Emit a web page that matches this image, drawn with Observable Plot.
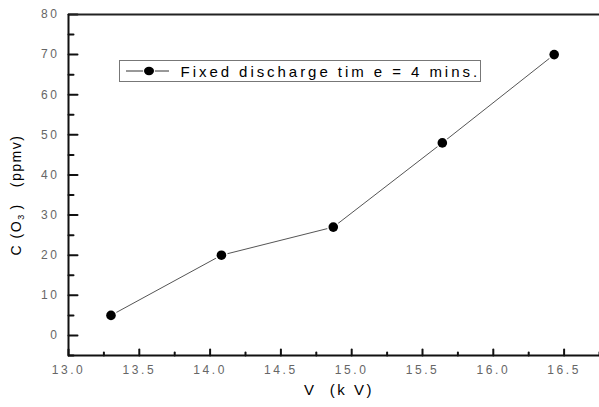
<!DOCTYPE html>
<html>
<head>
<meta charset="utf-8">
<script src="https://cdn.jsdelivr.net/npm/d3@7"></script>
<script src="https://cdn.jsdelivr.net/npm/@observablehq/plot@0.6"></script>
<style>
  html, body { margin: 0; padding: 0; background: #fff; }
  #wrap { position: relative; width: 599px; height: 407px; font-family: Arial, "Liberation Sans", sans-serif; }
  #legend { position: absolute; left: 119px; top: 60px; width: 362px; height: 22px; border: 1px solid #777; box-sizing: border-box; background: #fff; display: flex; align-items: center; }
  #legend svg { margin-left: 5px; }
  #legend span { margin-left: 12px; font-size: 15px; letter-spacing: 2.95px; color: #000; white-space: pre; }
  #ytitle { position: absolute; left: 17px; top: 195px; transform: translate(-50%, -50%) rotate(-90deg); font-size: 14px; letter-spacing: 1.5px; color: #000; white-space: pre; line-height: 1; }
  #ytitle sub { font-size: 9px; vertical-align: -3px; letter-spacing: 0; }
  g[aria-label="x-axis tick label"], g[aria-label="y-axis tick label"] { letter-spacing: 2.6px; }
  .xtitle text { letter-spacing: 2.5px; }
</style>
</head>
<body>
<div id="wrap"></div>
<script>
const voltage = [13.30, 14.08, 14.87, 15.64, 16.43];
const ozone = [5, 20, 27, 48, 70];
const seriesName = "Fixed discharge tim e = 4 mins.";
const xMajor = [13.0, 13.5, 14.0, 14.5, 15.0, 15.5, 16.0, 16.5];
const xMinor = [13.25, 13.75, 14.25, 14.75, 15.25, 15.75, 16.25, 16.75];
const yMajor = [0, 10, 20, 30, 40, 50, 60, 70, 80];
const yMinor = [-5, 5, 15, 25, 35, 45, 55, 65, 75];
const xDomain = [13.0, 16.75];
const yDomain = [-5, 80];
const xTitle = "V  (k V)";
const yTitleParts = ["C (O", "3", " )   (ppmv)"];

const data = voltage.map((v, i) => ({v, c: ozone[i]}));
const tickShape = {draw(ctx, l) { ctx.moveTo(0, 0); ctx.lineTo(0, -l); }};

const chart = Plot.plot({
  width: 599,
  height: 407,
  marginLeft: 68,
  marginRight: 0,
  marginTop: 14,
  marginBottom: 52,
  style: {fontFamily: "Arial, 'Liberation Sans', sans-serif", background: "#fff"},
  x: {domain: xDomain},
  y: {domain: yDomain},
  marks: [
    Plot.axisX({ticks: xMajor, tickSize: 0, tickPadding: 10, tickFormat: d3.format(".1f"), fontSize: 12, fill: "#666", label: null}),
    Plot.axisY({ticks: yMajor, tickSize: 0, tickPadding: 9, tickFormat: d3.format("d"), fontSize: 12, fill: "#666", label: null}),
    Plot.vector(xMajor, {x: d => d, frameAnchor: "bottom", length: 6, anchor: "start", shape: tickShape, stroke: "#111", strokeWidth: 2}),
    Plot.vector(xMinor, {x: d => d, frameAnchor: "bottom", length: 3, anchor: "start", shape: tickShape, stroke: "#111", strokeWidth: 2}),
    Plot.vector(yMajor, {y: d => d, frameAnchor: "left", length: 9, rotate: 90, anchor: "start", shape: tickShape, stroke: "#111", strokeWidth: 2}),
    Plot.vector(yMinor, {y: d => d, frameAnchor: "left", length: 5, rotate: 90, anchor: "start", shape: tickShape, stroke: "#111", strokeWidth: 2}),
    Plot.ruleY([yDomain[1]], {stroke: "#222", strokeWidth: 2}),
    Plot.ruleY([yDomain[0]], {stroke: "#111", strokeWidth: 2}),
    Plot.ruleX([xDomain[0]], {stroke: "#111", strokeWidth: 2}),
    Plot.line(data, {x: "v", y: "c", stroke: "#555", strokeWidth: 1}),
    Plot.dot(data, {x: "v", y: "c", r: 4.8, fill: "#000", stroke: "#fff", strokeWidth: 3, paintOrder: "stroke"}),
    Plot.text([xTitle], {frameAnchor: "bottom", dy: 39, dx: 5, text: d => d, fontSize: 15, fill: "#000"})
  ]
});

// tag the x title group for letter-spacing
const groups = chart.querySelectorAll('g[aria-label="text"]');
groups.forEach(g => g.classList.add("xtitle"));

const wrap = document.getElementById("wrap");
wrap.appendChild(chart);

const legend = document.createElement("div");
legend.id = "legend";
legend.innerHTML = `<svg width="46" height="12"><line x1="1" y1="6" x2="45" y2="6" stroke="#333" stroke-width="1"/><ellipse cx="24" cy="6" rx="5" ry="4.2" fill="#000" stroke="#fff" stroke-width="2" paint-order="stroke"/></svg><span></span>`;
legend.querySelector("span").textContent = seriesName;
wrap.appendChild(legend);

const yt = document.createElement("div");
yt.id = "ytitle";
const a = document.createTextNode(yTitleParts[0]);
const sub = document.createElement("sub");
sub.textContent = yTitleParts[1];
const b = document.createTextNode(yTitleParts[2]);
yt.append(a, sub, b);
wrap.appendChild(yt);
</script>
</body>
</html>
